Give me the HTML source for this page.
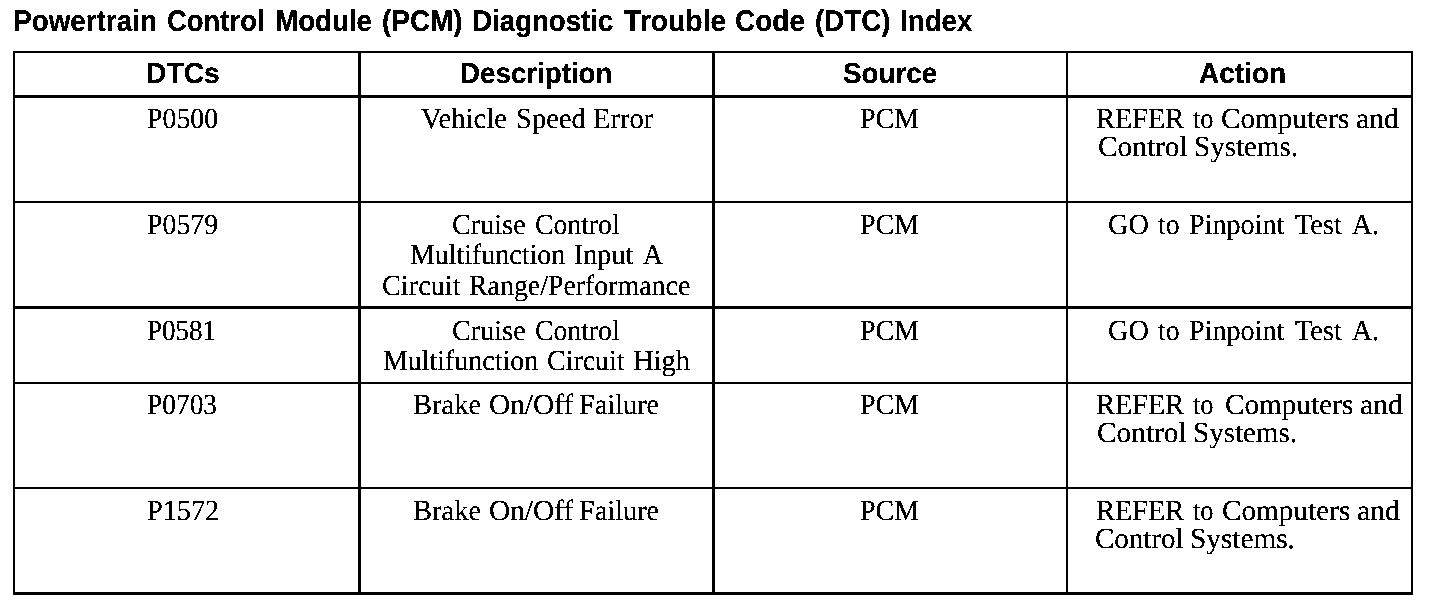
<!DOCTYPE html>
<html lang="en">
<head>
<meta charset="utf-8">
<title>Powertrain Control Module (PCM) Diagnostic Trouble Code (DTC) Index</title>
<style>
html,body{margin:0;padding:0;background:#fff;width:1440px;height:608px;overflow:hidden}
svg{display:block}
.h{font-family:"Liberation Sans",Arial,Helvetica,sans-serif;font-weight:bold}
.s{font-family:"Liberation Serif","Times New Roman",Times,serif}
</style>
</head>
<body>
<svg width="1440" height="608" viewBox="0 0 1440 608" role="img" aria-label="Powertrain Control Module (PCM) Diagnostic Trouble Code (DTC) Index table">
<defs><filter id="bw" x="0" y="0" width="1440" height="608" filterUnits="userSpaceOnUse" color-interpolation-filters="sRGB"><feComponentTransfer><feFuncA type="discrete" tableValues="0 1 1"/></feComponentTransfer></filter></defs>
<rect x="0" y="0" width="1440" height="608" fill="#fff"/>
<g fill="#000">
<rect x="13" y="51" width="1400" height="2"/>
<rect x="13" y="51" width="2" height="544"/>
<rect x="1411" y="51" width="2" height="544"/>
<rect x="13" y="592" width="1400" height="3"/>
<rect x="13" y="95" width="1400" height="3"/>
<rect x="13" y="201" width="1400" height="2"/>
<rect x="13" y="306" width="1400" height="3"/>
<rect x="13" y="382" width="1400" height="2"/>
<rect x="13" y="487" width="1400" height="2"/>
<rect x="358" y="51" width="3" height="544"/>
<rect x="712" y="51" width="3" height="544"/>
<rect x="1066" y="51" width="2" height="544"/>
</g>
<g filter="url(#bw)" text-rendering="geometricPrecision" fill="#000">
<text class="h" y="31" font-size="30"><tspan x="13.15" textLength="143.75" lengthAdjust="spacingAndGlyphs">Powertrain</tspan> <tspan x="167.09" textLength="97.41" lengthAdjust="spacingAndGlyphs">Control</tspan> <tspan x="275.16" textLength="96.76" lengthAdjust="spacingAndGlyphs">Module</tspan> <tspan x="382.07" textLength="80.47" lengthAdjust="spacingAndGlyphs">(PCM)</tspan> <tspan x="472.16" textLength="141.17" lengthAdjust="spacingAndGlyphs">Diagnostic</tspan> <tspan x="624.00" textLength="102.27" lengthAdjust="spacingAndGlyphs">Trouble</tspan> <tspan x="735.07" textLength="69.86" lengthAdjust="spacingAndGlyphs">Code</tspan> <tspan x="815.08" textLength="75.44" lengthAdjust="spacingAndGlyphs">(DTC)</tspan> <tspan x="900.16" textLength="72.17" lengthAdjust="spacingAndGlyphs">Index</tspan></text>
<text class="h" y="83" font-size="29"><tspan x="146.05" textLength="73.66" lengthAdjust="spacingAndGlyphs">DTCs</tspan></text>
<text class="h" y="83" font-size="29"><tspan x="460.09" textLength="152.37" lengthAdjust="spacingAndGlyphs">Description</tspan></text>
<text class="h" y="83" font-size="29"><tspan x="843.04" textLength="94.23" lengthAdjust="spacingAndGlyphs">Source</tspan></text>
<text class="h" y="83" font-size="29"><tspan x="1199.03" textLength="87.14" lengthAdjust="spacingAndGlyphs">Action</tspan></text>
<text class="s" y="128" font-size="29"><tspan x="147.04" textLength="71.05" lengthAdjust="spacingAndGlyphs">P0500</tspan></text>
<text class="s" y="128" font-size="29"><tspan x="421.00" textLength="85.96" lengthAdjust="spacingAndGlyphs">Vehicle</tspan> <tspan x="516.03" textLength="69.83" lengthAdjust="spacingAndGlyphs">Speed</tspan> <tspan x="593.02" textLength="60.17" lengthAdjust="spacingAndGlyphs">Error</tspan></text>
<text class="s" y="128" font-size="29"><tspan x="860.03" textLength="59.24" lengthAdjust="spacingAndGlyphs">PCM</tspan></text>
<text class="s" y="128" font-size="29"><tspan x="1096.02" textLength="88.22" lengthAdjust="spacingAndGlyphs">REFER</tspan> <tspan x="1193.00" textLength="20.51" lengthAdjust="spacingAndGlyphs">to</tspan> <tspan x="1220.99" textLength="128.30" lengthAdjust="spacingAndGlyphs">Computers</tspan> <tspan x="1355.96" textLength="42.95" lengthAdjust="spacingAndGlyphs">and</tspan></text>
<text class="s" y="156" font-size="29"><tspan x="1097.99" textLength="89.64" lengthAdjust="spacingAndGlyphs">Control</tspan> <tspan x="1194.00" textLength="103.94" lengthAdjust="spacingAndGlyphs">Systems.</tspan></text>
<text class="s" y="234" font-size="29"><tspan x="147.04" textLength="71.05" lengthAdjust="spacingAndGlyphs">P0579</tspan></text>
<text class="s" y="234" font-size="29"><tspan x="452.03" textLength="73.67" lengthAdjust="spacingAndGlyphs">Cruise</tspan> <tspan x="535.05" textLength="84.55" lengthAdjust="spacingAndGlyphs">Control</tspan></text>
<text class="s" y="264" font-size="29"><tspan x="410.04" textLength="155.07" lengthAdjust="spacingAndGlyphs">Multifunction</tspan> <tspan x="574.03" textLength="59.18" lengthAdjust="spacingAndGlyphs">Input</tspan> <tspan x="643.00" textLength="19.96" lengthAdjust="spacingAndGlyphs">A</tspan></text>
<text class="s" y="295" font-size="29"><tspan x="382.03" textLength="78.51" lengthAdjust="spacingAndGlyphs">Circuit</tspan> <tspan x="469.04" textLength="221.25" lengthAdjust="spacingAndGlyphs">Range/Performance</tspan></text>
<text class="s" y="234" font-size="29"><tspan x="860.03" textLength="59.24" lengthAdjust="spacingAndGlyphs">PCM</tspan></text>
<text class="s" y="234" font-size="29"><tspan x="1108.03" textLength="40.84" lengthAdjust="spacingAndGlyphs">GO</tspan> <tspan x="1158.00" textLength="21.54" lengthAdjust="spacingAndGlyphs">to</tspan> <tspan x="1189.03" textLength="95.27" lengthAdjust="spacingAndGlyphs">Pinpoint</tspan> <tspan x="1295.00" textLength="46.91" lengthAdjust="spacingAndGlyphs">Test</tspan> <tspan x="1352.00" textLength="27.12" lengthAdjust="spacingAndGlyphs">A.</tspan></text>
<text class="s" y="340" font-size="29"><tspan x="147.07" textLength="69.01" lengthAdjust="spacingAndGlyphs">P0581</tspan></text>
<text class="s" y="340" font-size="29"><tspan x="452.03" textLength="73.67" lengthAdjust="spacingAndGlyphs">Cruise</tspan> <tspan x="535.05" textLength="84.55" lengthAdjust="spacingAndGlyphs">Control</tspan></text>
<text class="s" y="370" font-size="29"><tspan x="383.04" textLength="155.07" lengthAdjust="spacingAndGlyphs">Multifunction</tspan> <tspan x="547.04" textLength="77.49" lengthAdjust="spacingAndGlyphs">Circuit</tspan> <tspan x="633.02" textLength="56.98" lengthAdjust="spacingAndGlyphs">High</tspan></text>
<text class="s" y="340" font-size="29"><tspan x="860.03" textLength="59.24" lengthAdjust="spacingAndGlyphs">PCM</tspan></text>
<text class="s" y="340" font-size="29"><tspan x="1108.03" textLength="40.84" lengthAdjust="spacingAndGlyphs">GO</tspan> <tspan x="1158.00" textLength="21.54" lengthAdjust="spacingAndGlyphs">to</tspan> <tspan x="1189.03" textLength="95.27" lengthAdjust="spacingAndGlyphs">Pinpoint</tspan> <tspan x="1295.00" textLength="46.91" lengthAdjust="spacingAndGlyphs">Test</tspan> <tspan x="1352.00" textLength="27.12" lengthAdjust="spacingAndGlyphs">A.</tspan></text>
<text class="s" y="414" font-size="29"><tspan x="147.06" textLength="70.02" lengthAdjust="spacingAndGlyphs">P0703</tspan></text>
<text class="s" y="414" font-size="29"><tspan x="413.01" textLength="68.22" lengthAdjust="spacingAndGlyphs">Brake</tspan> <tspan x="488.99" textLength="84.25" lengthAdjust="spacingAndGlyphs">On/Off</tspan> <tspan x="579.02" textLength="80.10" lengthAdjust="spacingAndGlyphs">Failure</tspan></text>
<text class="s" y="414" font-size="29"><tspan x="860.03" textLength="59.24" lengthAdjust="spacingAndGlyphs">PCM</tspan></text>
<text class="s" y="414" font-size="29"><tspan x="1096.02" textLength="88.22" lengthAdjust="spacingAndGlyphs">REFER</tspan> <tspan x="1193.00" textLength="20.51" lengthAdjust="spacingAndGlyphs">to</tspan> <tspan x="1224.99" textLength="128.30" lengthAdjust="spacingAndGlyphs">Computers</tspan> <tspan x="1359.96" textLength="42.95" lengthAdjust="spacingAndGlyphs">and</tspan></text>
<text class="s" y="442" font-size="29"><tspan x="1096.99" textLength="89.64" lengthAdjust="spacingAndGlyphs">Control</tspan> <tspan x="1193.00" textLength="103.94" lengthAdjust="spacingAndGlyphs">Systems.</tspan></text>
<text class="s" y="520" font-size="29"><tspan x="147.03" textLength="72.08" lengthAdjust="spacingAndGlyphs">P1572</tspan></text>
<text class="s" y="520" font-size="29"><tspan x="413.01" textLength="68.22" lengthAdjust="spacingAndGlyphs">Brake</tspan> <tspan x="488.99" textLength="84.25" lengthAdjust="spacingAndGlyphs">On/Off</tspan> <tspan x="579.02" textLength="80.10" lengthAdjust="spacingAndGlyphs">Failure</tspan></text>
<text class="s" y="520" font-size="29"><tspan x="860.03" textLength="59.24" lengthAdjust="spacingAndGlyphs">PCM</tspan></text>
<text class="s" y="520" font-size="29"><tspan x="1096.02" textLength="88.22" lengthAdjust="spacingAndGlyphs">REFER</tspan> <tspan x="1193.00" textLength="20.51" lengthAdjust="spacingAndGlyphs">to</tspan> <tspan x="1221.99" textLength="128.30" lengthAdjust="spacingAndGlyphs">Computers</tspan> <tspan x="1356.96" textLength="42.95" lengthAdjust="spacingAndGlyphs">and</tspan></text>
<text class="s" y="548" font-size="29"><tspan x="1095.00" textLength="88.62" lengthAdjust="spacingAndGlyphs">Control</tspan> <tspan x="1189.98" textLength="104.98" lengthAdjust="spacingAndGlyphs">Systems.</tspan></text>
</g>
</svg>
</body>
</html>
